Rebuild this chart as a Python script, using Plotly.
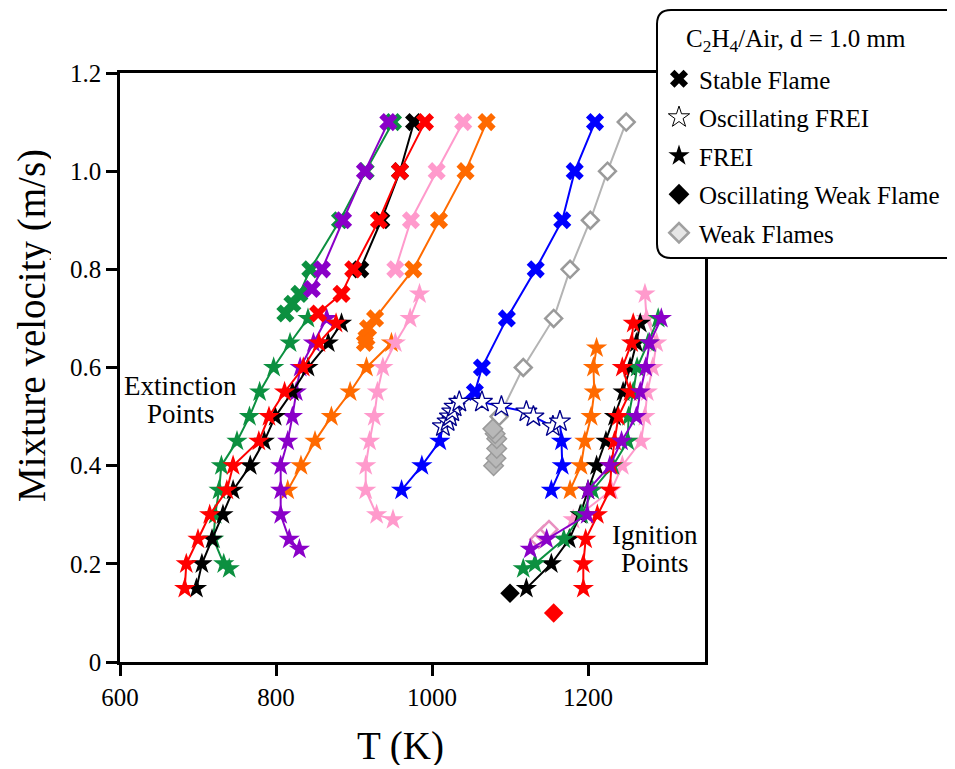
import plotly.graph_objects as go

# ---------------- data (T in K, v in m/s) ----------------
# green
g_ext_v = [0.19, 0.2, 0.25, 0.3, 0.35, 0.4, 0.45, 0.5, 0.55, 0.6, 0.65, 0.7]
g_ext_T = [740, 733, 720, 722, 727, 730, 750, 766, 779, 797, 818, 841]
g_x_v = [0.71, 0.73, 0.75, 0.8, 0.9, 1.0, 1.1]
g_x_T = [812, 821, 830, 844, 882, 915, 950]
g_ign_v = [0.19, 0.2, 0.25, 0.3, 0.35, 0.4, 0.45, 0.5, 0.55, 0.6, 0.65, 0.7]
g_ign_T = [1117, 1132, 1169, 1192, 1206, 1232, 1251, 1252, 1258, 1263, 1277, 1290]
# red
r_ext_v = [0.15, 0.2, 0.25, 0.3, 0.35, 0.4, 0.45, 0.5, 0.55, 0.6, 0.65, 0.69]
r_ext_T = [683, 685, 700, 715, 737, 745, 778, 791, 811, 835, 855, 877]
r_x_v = [0.71, 0.75, 0.8, 0.9, 1.0, 1.1]
r_x_T = [854, 884, 899, 932, 959, 991]
r_ign_v = [0.15, 0.2, 0.25, 0.3, 0.35, 0.4, 0.45, 0.5, 0.55, 0.6, 0.65, 0.69]
r_ign_T = [1194, 1194, 1197, 1212, 1228, 1230, 1234, 1239, 1254, 1244, 1256, 1258]
r_osc_v = [0.10]
r_osc_T = [1156]
# black
k_ext_v = [0.15, 0.2, 0.25, 0.3, 0.35, 0.4, 0.45, 0.5, 0.55, 0.6, 0.65, 0.69]
k_ext_T = [698, 705, 718, 732, 745, 767, 785, 799, 821, 841, 867, 884]
k_x_v = [0.8, 0.9, 1.0, 1.1]
k_x_T = [908, 935, 959, 977]
k_ign_v = [0.15, 0.2, 0.25, 0.3, 0.35, 0.4, 0.45, 0.5, 0.55, 0.6, 0.65, 0.69]
k_ign_T = [1121, 1153, 1176, 1190, 1200, 1211, 1223, 1234, 1245, 1254, 1262, 1267]
k_osc_v = [0.14]
k_osc_T = [1100]
# purple
p_ext_v = [0.23, 0.25, 0.3, 0.35, 0.4, 0.45, 0.5, 0.55, 0.6, 0.65, 0.7]
p_ext_T = [830, 817, 806, 806, 806, 815, 821, 826, 831, 848, 865]
p_x_v = [0.76, 0.8, 0.9, 1.0, 1.1]
p_x_T = [846, 859, 886, 914, 944]
p_ign_v = [0.23, 0.25, 0.3, 0.35, 0.4, 0.45, 0.5, 0.55, 0.6, 0.65, 0.7]
p_ign_T = [1126, 1147, 1199, 1200, 1228, 1243, 1262, 1267, 1274, 1279, 1294]
# orange
o_ext_v = [0.35, 0.4, 0.45, 0.5, 0.55, 0.6, 0.65]
o_ext_T = [815, 832, 850, 871, 895, 916, 948]
o_x_v = [0.65, 0.66, 0.68, 0.7, 0.8, 0.9, 1.0, 1.1]
o_x_T = [914, 916, 918, 927, 976, 1009, 1043, 1070]
o_ign_v = [0.35, 0.4, 0.45, 0.5, 0.55, 0.6, 0.64]
o_ign_T = [1177, 1191, 1196, 1204, 1208, 1207, 1211]
# pink
pk_ext_v = [0.29, 0.3, 0.35, 0.4, 0.45, 0.5, 0.55, 0.6, 0.65, 0.7, 0.75]
pk_ext_T = [950, 929, 915, 915, 920, 926, 930, 937, 953, 972, 984]
pk_x_v = [0.8, 0.9, 1.0, 1.1]
pk_x_T = [953, 973, 1006, 1040]
pk_ign_v = [0.29, 0.35, 0.4, 0.45, 0.5, 0.55, 0.6, 0.65, 0.7, 0.75]
pk_ign_T = [1181, 1230, 1244, 1268, 1273, 1276, 1283, 1288, 1275, 1273]
pk_weak_v = [0.25, 0.26, 0.27]
pk_weak_T = [1137, 1143, 1150]
# blue
b_left_v = [0.35, 0.4, 0.45]
b_left_T = [961, 987, 1010]
b_oscl_v = [0.48, 0.49, 0.50, 0.51, 0.52, 0.53]
b_oscl_T = [1014, 1020, 1023, 1026, 1029, 1035]
b_x_v = [0.55, 0.6, 0.7, 0.8, 0.9, 1.0, 1.1]
b_x_T = [1055, 1064, 1096, 1133, 1167, 1183, 1209]
b_oscr_v = [0.53, 0.52, 0.51, 0.50, 0.48, 0.49]
b_oscr_T = [1064, 1089, 1121, 1130, 1155, 1164]
b_right_v = [0.45, 0.4, 0.35]
b_right_T = [1166, 1167, 1153]
# gray weak flames
w_v = [0.5, 0.6, 0.7, 0.8, 0.9, 1.0, 1.1]
w_T = [1086, 1117, 1156, 1177, 1203, 1225, 1249]
wf_v = [0.40, 0.415, 0.435, 0.455, 0.465, 0.475]
wf_T = [1079, 1082, 1083, 1083, 1081, 1078]

x_ticks = [600, 800, 1000, 1200]
y_ticks = [0, 0.2, 0.4, 0.6, 0.8, 1.0, 1.2]
y_tick_text = ["0", "0.2", "0.4", "0.6", "0.8", "1.0", "1.2"]

legend_title = "C<sub>2</sub>H<sub>4</sub>/Air, d = 1.0 mm"
legend_names = ["Stable Flame", "Oscillating FREI", "FREI",
                "Oscillating Weak Flame", "Weak Flames"]

# ---------------- style ----------------
GREEN = "#0c9040"
RED = "#ff0000"
BLACK = "#000000"
PURPLE = "#8a00c8"
ORANGE = "#ff6a00"
PINK = "#ff9acc"
BLUE = "#0000ff"
NAVY = "#00008b"
GRAY = "#b4b4b4"
FONT = "Liberation Serif"
STAR = 16
XS = 16
LW = 2

fig = go.Figure()


def add(T, v, color, symbol, size, mode="lines+markers", mline=None, fill=None):
    marker = dict(symbol=symbol, size=size, color=fill if fill else color)
    if mline:
        marker["line"] = mline
    else:
        marker["line"] = dict(width=0)
    fig.add_trace(go.Scatter(x=T, y=v, mode=mode, showlegend=False,
                             line=dict(color=color, width=LW),
                             marker=marker, hoverinfo="x+y"))


# gray weak flame line
add(w_T, w_v, GRAY, "diamond", 13, mline=dict(color="#9a9a9a", width=2.5), fill="#ffffff")
add(wf_T, wf_v, GRAY, "diamond", 15, mode="markers", mline=dict(color="#9a9a9a", width=1.5), fill="#b8b8b8")

# extinction branches
for T, v, c in [(o_ext_T, o_ext_v, ORANGE), (pk_ext_T, pk_ext_v, PINK),
                (p_ext_T, p_ext_v, PURPLE), (g_ext_T, g_ext_v, GREEN),
                (k_ext_T, k_ext_v, BLACK), (r_ext_T, r_ext_v, RED)]:
    add(T, v, c, "star", STAR)
for T, v, c in [(o_x_T, o_x_v, ORANGE), (pk_x_T, pk_x_v, PINK),
                (g_x_T, g_x_v, GREEN), (p_x_T, p_x_v, PURPLE),
                (k_x_T, k_x_v, BLACK), (r_x_T, r_x_v, RED)]:
    add(T, v, c, "x", XS)

# blue
fig.add_trace(go.Scatter(x=b_left_T + b_oscl_T + b_x_T, y=b_left_v + b_oscl_v + b_x_v,
                         mode="lines", line=dict(color=BLUE, width=LW), showlegend=False))
fig.add_trace(go.Scatter(x=b_x_T[:1] + b_oscr_T + b_right_T, y=b_x_v[:1] + b_oscr_v + b_right_v,
                         mode="lines", line=dict(color=BLUE, width=LW), showlegend=False))
add(b_left_T, b_left_v, BLUE, "star", STAR, mode="markers")
add(b_right_T, b_right_v, BLUE, "star", STAR, mode="markers")
add(b_x_T, b_x_v, BLUE, "x", XS, mode="markers")
add(b_oscl_T, b_oscl_v, BLUE, "star", STAR, mode="markers", mline=dict(color=NAVY, width=1.3), fill="#ffffff")
add(b_oscr_T, b_oscr_v, BLUE, "star", STAR, mode="markers", mline=dict(color=NAVY, width=1.3), fill="#ffffff")

# ignition branches
add(pk_weak_T, pk_weak_v, PINK, "diamond", 13, mode="markers", mline=dict(color="#e890c0", width=2.5), fill="#ffffff")
for T, v, c in [(o_ign_T, o_ign_v, ORANGE), (pk_ign_T, pk_ign_v, PINK),
                (k_ign_T, k_ign_v, BLACK), (g_ign_T, g_ign_v, GREEN),
                (r_ign_T, r_ign_v, RED), (p_ign_T, p_ign_v, PURPLE)]:
    add(T, v, c, "star", STAR)
add(k_osc_T, k_osc_v, BLACK, "diamond", 15, mode="markers")
add(r_osc_T, r_osc_v, RED, "diamond", 15, mode="markers")

# legend entries
leg_markers = [
    dict(symbol="x", size=16, color="black", line=dict(width=0)),
    dict(symbol="star", size=16, color="white", line=dict(color="black", width=1)),
    dict(symbol="star", size=16, color="black", line=dict(width=0)),
    dict(symbol="diamond", size=16, color="black", line=dict(width=0)),
    dict(symbol="diamond", size=15, color="#e6e6e6", line=dict(color="#a0a0a0", width=2.5)),
]
for i, (name, mk) in enumerate(zip(legend_names, leg_markers)):
    fig.add_trace(go.Scatter(x=[None], y=[None], mode="markers", name=name,
                             marker=mk, legendgroup=str(i), showlegend=True))

# page has an 8px body margin, so the figure is drawn 8px in from the window edge
OFF = 8
W, H = 955 - OFF, 769 - OFF
# plot-area edges in window pixels
PL, PR, PT, PB = 120, 705, 73, 662
ml, mr, mt, mb = PL - OFF, W - (PR - OFF), PT - OFF, H - (PB - OFF)
pw, ph = W - ml - mr, H - mt - mb


def px(xp):
    return (xp - PL) / pw


def py(yp):
    return (PB - yp) / ph


bx0, bx1, by0, by1, rr = 657, 990, 10, 258, 14
path = (f"M {px(bx0 + rr)},{py(by0)} L {px(bx1)},{py(by0)} L {px(bx1)},{py(by1)} "
        f"L {px(bx0 + rr)},{py(by1)} Q {px(bx0)},{py(by1)} {px(bx0)},{py(by1 - rr)} "
        f"L {px(bx0)},{py(by0 + rr)} Q {px(bx0)},{py(by0)} {px(bx0 + rr)},{py(by0)} Z")
fig.add_shape(type="path", path=path, xref="paper", yref="paper",
              fillcolor="white", line=dict(color="black", width=2), layer="above")

annos = [("Extinction", 678, 0.563), ("Points", 678, 0.506),
         ("Ignition", 1286, 0.259), ("Points", 1286, 0.202)]
for t, xx, yy in annos:
    fig.add_annotation(x=xx, y=yy, text=t, showarrow=False, xref="x", yref="y",
                       font=dict(family=FONT, size=27, color="black"))

# legend title
fig.add_annotation(x=px(796), y=py(40), xref="paper", yref="paper", showarrow=False,
                   text=legend_title, xanchor="center", yanchor="middle",
                   font=dict(family=FONT, size=25, color="black"))

# axis titles
fig.add_annotation(x=px(400), y=py(746), xref="paper", yref="paper", showarrow=False,
                   text="T (K)", xanchor="center", yanchor="middle", height=38,
                   font=dict(family=FONT, size=39, color="black"))
fig.add_annotation(x=px(32), y=py(326), xref="paper", yref="paper", showarrow=False,
                   text="Mixture velocity (m/s)", textangle=-90, height=38,
                   xanchor="center", yanchor="middle",
                   font=dict(family=FONT, size=39, color="black"))

fig.update_layout(
    width=W, height=H,
    margin=dict(l=ml, r=mr, t=mt, b=mb, autoexpand=False),
    paper_bgcolor="white", plot_bgcolor="white",
    font=dict(family=FONT, size=24, color="black"),
    showlegend=True,
    legend=dict(x=px(659), y=py(56), xanchor="left", yanchor="top",
                bgcolor="rgba(0,0,0,0)", borderwidth=0,
                font=dict(family=FONT, size=25, color="black"),
                tracegroupgap=3, itemwidth=30),
    xaxis=dict(range=[600, 1350], tickvals=x_ticks, ticks="outside", ticklen=11,
               tickwidth=2.5, tickcolor="black", showline=True, linewidth=2.5,
               linecolor="black", mirror=True, showgrid=False, zeroline=False,
               tickfont=dict(family=FONT, size=25), automargin=False),
    yaxis=dict(range=[0, 1.2], tickvals=y_ticks, ticktext=y_tick_text, ticks="outside",
               ticklen=11, tickwidth=2.5, tickcolor="black", showline=True, linewidth=2.5,
               linecolor="black", mirror=True, showgrid=False, zeroline=False,
               tickfont=dict(family=FONT, size=25), automargin=False),
)

fig.write_html("out.html")
